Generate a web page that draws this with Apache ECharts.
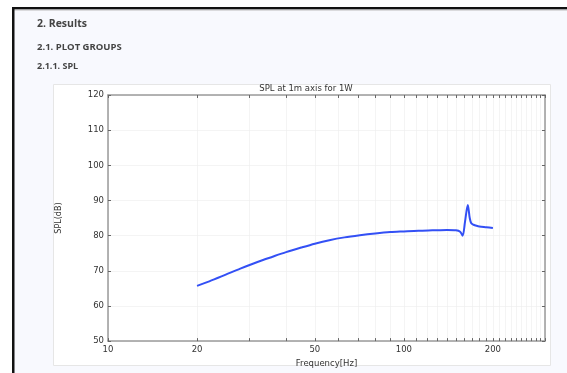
<!DOCTYPE html>
<html><head><meta charset="utf-8">
<script src="https://cdn.jsdelivr.net/npm/echarts@6/dist/echarts.min.js"></script>
<style>html,body{margin:0;padding:0;background:#fff}#c{width:567px;height:373px}</style>
</head><body><div id="c"></div>
<script>
const freqs = [20,22,25,28,32,36,40,45,50,56,63,71,80,90,100,112,125,140,150,155,158,161,164.5,167,169,172,176,180,190,200];
const spl   = [65.7,67.0,68.9,70.6,72.5,74.0,75.3,76.6,77.7,78.7,79.5,80.1,80.6,81.0,81.2,81.4,81.5,81.6,81.5,81.1,80.0,84.0,88.7,85.0,83.5,83.1,82.8,82.6,82.4,82.2];
const xLabelValues = [10,20,50,100,200];
const xTickValues = [10,20,30,40,50,60,70,80,90,100,110,120,130,140,150,160,170,180,190,200,210,220,230,240,250,260,270,280,290,300];
const titleText = 'SPL at 1m axis for 1W';
const headings = ['2. Results','2.1. PLOT GROUPS','2.1.1. SPL'];

const chart = echarts.init(document.getElementById('c'), null, {renderer:'canvas'});
const axisCol = '#9a9a9a';
const txtCol = '#333';
const font = 'DejaVu Sans';
chart.setOption({
  animation:false,
  backgroundColor:'#ffffff',
  graphic:[
    {type:'rect', shape:{x:12,y:7,width:560,height:370}, style:{fill:'#f8f9fe'}, z:-10},
    {type:'rect', shape:{x:12,y:7,width:560,height:2.5}, style:{fill:'#111'}, z:-9},
    {type:'rect', shape:{x:12,y:9.5,width:560,height:1}, style:{fill:'#bbb'}, z:-9},
    {type:'rect', shape:{x:12,y:7,width:2.5,height:370}, style:{fill:'#111'}, z:-9},
    {type:'rect', shape:{x:53.5,y:84.5,width:497,height:281}, style:{fill:'#fff',stroke:'#e6e6e6',lineWidth:1}, z:-8},
    {type:'text', left:37, top:19, style:{text:headings[0], font:'bold 10.5px "Open Sans"', fill:'#444'}},
    {type:'text', left:37, top:42, style:{text:headings[1], font:'bold 9.5px "Open Sans"', fill:'#444'}},
    {type:'text', left:37, top:62, style:{text:headings[2], font:'bold 9px "Open Sans"', fill:'#444'}}
  ],
  title:{text:titleText, left:306, top:84, padding:0, textAlign:'center', textStyle:{fontFamily:font,fontSize:8.5,fontWeight:'normal',color:txtCol}},
  grid:{left:108,right:22,top:95,bottom:28,show:false},
  xAxis:[{
    type:'log', logBase:10, min:10, max:300, position:'bottom',
    name:'Frequency[Hz]', nameLocation:'middle', nameGap:10,
    nameTextStyle:{fontFamily:font,fontSize:8.5,color:txtCol},
    axisLine:{show:true,lineStyle:{color:axisCol,width:1.5}},
    axisTick:{show:true,inside:true,length:3,customValues:xTickValues,lineStyle:{color:'#666',width:1}},
    axisLabel:{show:true,customValues:xLabelValues,margin:4,fontFamily:font,fontSize:8.5,color:txtCol},
    splitLine:{show:true,lineStyle:{color:'#ececec',width:0.6}},
    minorTick:{show:false}
  },{
    type:'log', logBase:10, min:10, max:300, position:'top',
    axisLine:{show:true,lineStyle:{color:axisCol,width:1.5}},
    axisTick:{show:true,inside:true,length:3,customValues:xTickValues,lineStyle:{color:'#666',width:1}},
    axisLabel:{show:false},
    splitLine:{show:false}
  }],
  yAxis:[{
    type:'value', min:50, max:120, interval:10, position:'left',
    name:'SPL(dB)', nameLocation:'middle', nameGap:45,
    nameTextStyle:{fontFamily:font,fontSize:8,color:txtCol},
    axisLine:{show:true,lineStyle:{color:axisCol,width:1.5}},
    axisTick:{show:true,inside:true,length:3,lineStyle:{color:'#666',width:1}},
    axisLabel:{margin:4,fontFamily:font,fontSize:8.5,color:txtCol},
    splitLine:{show:true,lineStyle:{color:'#ececec',width:0.6}}
  },{
    type:'value', min:50, max:120, interval:10, position:'right',
    axisLine:{show:true,lineStyle:{color:axisCol,width:1.5}},
    axisTick:{show:true,inside:true,length:3,lineStyle:{color:'#666',width:1}},
    axisLabel:{show:false},
    splitLine:{show:false}
  }],
  series:[{
    type:'line', xAxisIndex:0, yAxisIndex:0,
    data:freqs.map((f,i)=>[f,spl[i]]),
    showSymbol:false, smooth:0.3,
    lineStyle:{color:'#3350f5',width:2}
  }]
});
</script></body></html>
